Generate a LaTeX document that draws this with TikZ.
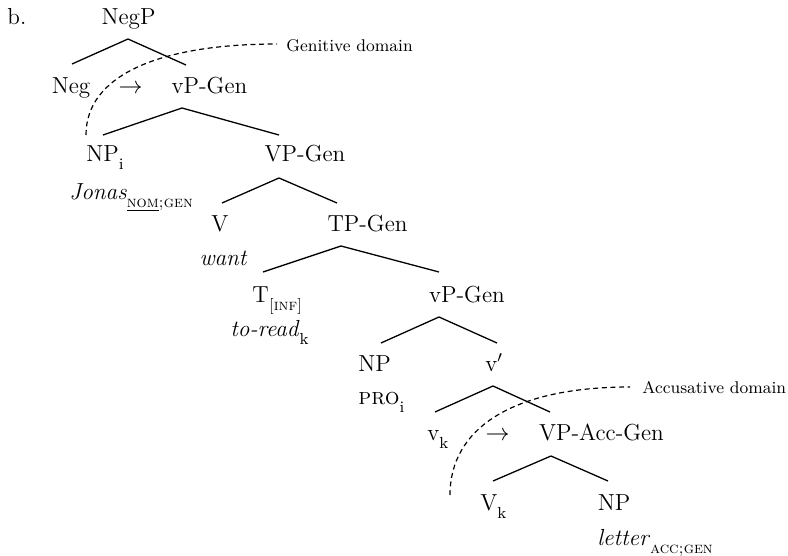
\documentclass[tikz,border=0pt]{standalone}
\usepackage{fontspec}
\newcommand\lowsub[1]{\raisebox{-4pt}{\fontsize{8}{9}\selectfont #1}}
\begin{document}
\begin{tikzpicture}[x=0.5pt,y=-0.5pt,
  lbl/.style={inner sep=0pt,anchor=base,font=\fontsize{11.6}{13}\selectfont},
  lblw/.style={lbl,anchor=base west},
  note/.style={inner sep=0pt,anchor=base west,font=\fontsize{8.5}{10}\selectfont},
  branch/.style={line width=0.65pt},
  caseline/.style={line width=0.6pt,dash pattern=on 2.5pt off 1.8pt}]
\useasboundingbox (0,0) rectangle (788,556);

% labels
\node[lblw] (ex)     at (7,25)    {b.};
\node[lbl]  (NegP)   at (128.5,25) {NegP};
\node[lbl]  (Neg)    at (71,94)   {Neg};
\node[lbl]  (arrA)   at (130.5,94) {$\rightarrow$};
\node[lbl]  (vPGen)  at (209.5,94) {vP-Gen};
\node[lblw] (NPi)    at (86,162)  {NP\lowsub{i}};
\node[lblw] (Jonas)  at (69,199)  {\textit{Jonas}\lowsub{\underline{\textsc{nom}}\textsc{;gen}}};
\node[lbl]  (VPGen)  at (305,162) {VP-Gen};
\node[lbl]  (V)      at (220,232) {V};
\node[lbl]  (want)   at (223.5,265) {\textit{want}};
\node[lbl]  (TPGen)  at (367.5,232) {TP-Gen};
\node[lblw] (T)      at (252,302) {T\lowsub{\textsc{[inf]}}};
\node[lblw] (toread) at (230,336) {\textit{to-read}\lowsub{k}};
\node[lbl]  (vPGenB) at (467,302) {vP-Gen};
\node[lbl]  (NPpro)  at (374.5,371) {NP};
\node[lblw] (PRO)    at (358,404) {\textsc{pro}\lowsub{i}};
\node[lblw] (vbar)   at (485,371) {v$'$};
\node[lblw] (vk)     at (427,440) {v\lowsub{k}};
\node[lbl]  (arrB)   at (497.5,440) {$\rightarrow$};
\node[lbl]  (VPAcc)  at (601.5,440) {VP-Acc-Gen};
\node[lblw] (Vk)     at (480,510) {V\lowsub{k}};
\node[lbl]  (NPobj)  at (614,510) {NP};
\node[lblw] (letter) at (597,545) {\textit{letter}\lowsub{\textsc{acc;}\underline{\textsc{gen}}}};
\node[note] (gdom)   at (286,52)  {Genitive domain};
\node[note] (adom)   at (642,393) {Accusative domain};

% branch points
\coordinate (NegP-a)   at (128,39);
\coordinate (Neg-t)    at (72,64);
\coordinate (vPGen-t)  at (186,65);
\coordinate (vPGen-a)  at (182,108);
\coordinate (NPi-t)    at (103,135);
\coordinate (VPGen-t)  at (279,135);
\coordinate (VPGen-a)  at (279,178);
\coordinate (V-t)      at (222,203);
\coordinate (TPGen-t)  at (337,203);
\coordinate (TPGen-a)  at (341,246);
\coordinate (T-t)      at (263,272);
\coordinate (vPGenB-t) at (439,272);
\coordinate (vPGenB-a) at (439,317);
\coordinate (NPpro-t)  at (381,343);
\coordinate (vbar-t)   at (497,343);
\coordinate (vbar-a)   at (493,386);
\coordinate (vk-t)     at (435,412);
\coordinate (VPAcc-t)  at (550,412);
\coordinate (VPAcc-a)  at (551,456);
\coordinate (Vk-t)     at (493,481);
\coordinate (NPobj-t)  at (608,481);

% branches
\draw[branch] (Neg-t) -- (NegP-a) -- (vPGen-t);
\draw[branch] (NPi-t) -- (vPGen-a) -- (VPGen-t);
\draw[branch] (V-t) -- (VPGen-a) -- (TPGen-t);
\draw[branch] (T-t) -- (TPGen-a) -- (vPGenB-t);
\draw[branch] (NPpro-t) -- (vPGenB-a) -- (vbar-t);
\draw[branch] (vk-t) -- (vbar-a) -- (VPAcc-t);
\draw[branch] (Vk-t) -- (VPAcc-a) -- (NPobj-t);

% case domains
\coordinate (gen-s) at (86,135);
\coordinate (gen-e) at (277,44);
\coordinate (acc-s) at (450,495);
\coordinate (acc-e) at (630,387);
\draw[caseline] (gen-s) .. controls (86,75) and (160,44) .. (gen-e);
\draw[caseline] (acc-s) .. controls (450,430) and (510,387) .. (acc-e);
\end{tikzpicture}
\end{document}
